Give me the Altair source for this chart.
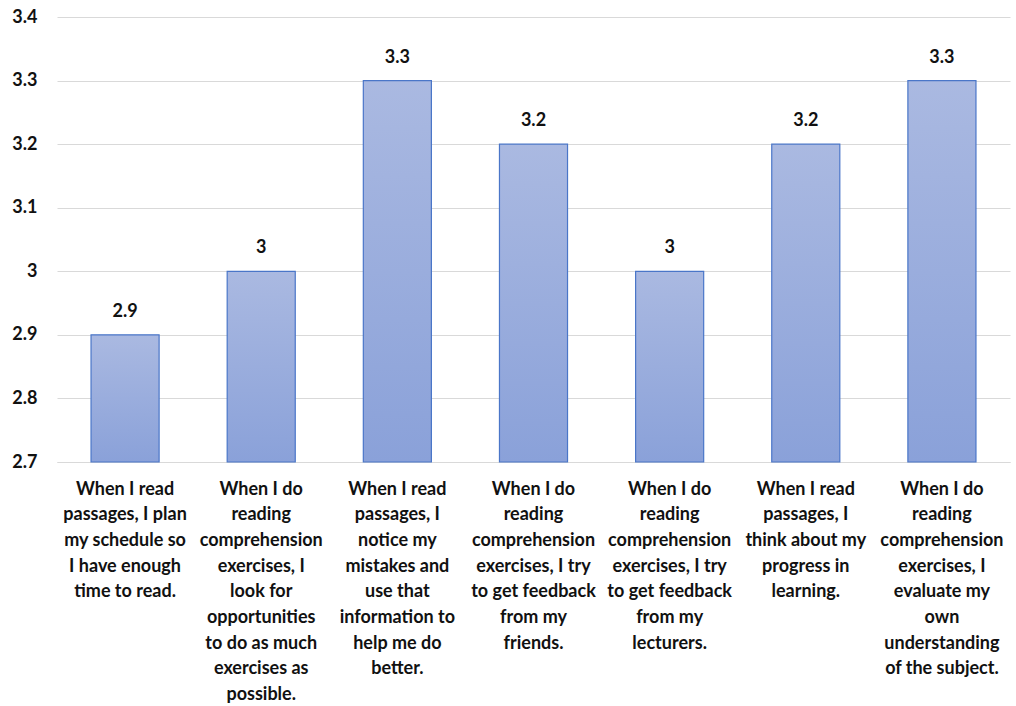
import altair as alt
import pandas as pd

# Survey statements (line breaks marked with "|") and their mean scores
statements = [
    "When I read|passages, I plan|my schedule so|I have enough|time to read.",
    "When I do|reading|comprehension|exercises, I|look for|opportunities|to do as much|exercises as|possible.",
    "When I read|passages, I|notice my|mistakes and|use that|information to|help me do|better.",
    "When I do|reading|comprehension|exercises, I try|to get feedback|from my|friends.",
    "When I do|reading|comprehension|exercises, I try|to get feedback|from my|lecturers.",
    "When I read|passages, I|think about my|progress in|learning.",
    "When I do|reading|comprehension|exercises, I|evaluate my|own|understanding|of the subject.",
]
scores = [2.9, 3.0, 3.3, 3.2, 3.0, 3.2, 3.3]
y_ticks = [2.7, 2.8, 2.9, 3.0, 3.1, 3.2, 3.3, 3.4]
y_min, y_max = 2.7, 3.4

df = pd.DataFrame({"statement": statements, "score": scores})

FONT = "Lato"
TEXT = "#111111"
SIZE = 18

x_enc = alt.X(
    "statement:N",
    sort=None,
    scale=alt.Scale(paddingInner=0.5, paddingOuter=0.25),
    axis=alt.Axis(
        title=None,
        labelAngle=0,
        labelExpr="split(datum.label, '|')",
        labelFont=FONT,
        labelFontSize=SIZE,
        labelFontWeight="bold",
        labelColor=TEXT,
        labelLineHeight=25.7,
        labelPadding=18,
        labelLimit=400,
        labelOverlap=False,
        domain=True,
        domainColor="#d9d9d9",
        domainWidth=1,
        ticks=False,
        grid=False,
    ),
)

y_scale = alt.Scale(domain=[y_min, y_max], zero=False, nice=False)

bars = alt.Chart(df).mark_bar(
    color=alt.Gradient(
        gradient="linear",
        stops=[
            alt.GradientStop(color="#aab9e1", offset=0),
            alt.GradientStop(color="#8aa1d9", offset=1),
        ],
        x1=0, x2=0, y1=0, y2=1,
    ),
    stroke="#4a76c8",
    strokeWidth=1.2,
).encode(
    x=x_enc,
    y=alt.Y(
        "score:Q",
        scale=y_scale,
        axis=alt.Axis(
            title=None,
            values=y_ticks,
            format="~g",
            labelFont=FONT,
            labelFontSize=SIZE,
            labelFontWeight="bold",
            labelColor=TEXT,
            labelPadding=20,
            domain=False,
            ticks=False,
            grid=True,
            gridColor="#d9d9d9",
            gridWidth=1.2,
        ),
    ),
    y2=alt.datum(y_min),
)

labels = alt.Chart(df).mark_text(
    font=FONT,
    fontSize=SIZE,
    fontWeight="bold",
    color=TEXT,
    dy=-18,
    baseline="alphabetic",
).encode(
    x=alt.X("statement:N", sort=None),
    y=alt.Y("score:Q", scale=y_scale),
    text=alt.Text("score:Q", format="~g"),
)

chart = (
    alt.layer(bars, labels)
    .properties(
        width=953,
        height=445,
        background="white",
        autosize=alt.AutoSizeParams(type="none"),
        padding={"left": 57, "top": 17, "right": 6, "bottom": 244},
    )
    .configure_view(stroke="transparent", strokeWidth=0)
)

chart.save("out.html", embed_options={"renderer": "svg", "actions": False})
